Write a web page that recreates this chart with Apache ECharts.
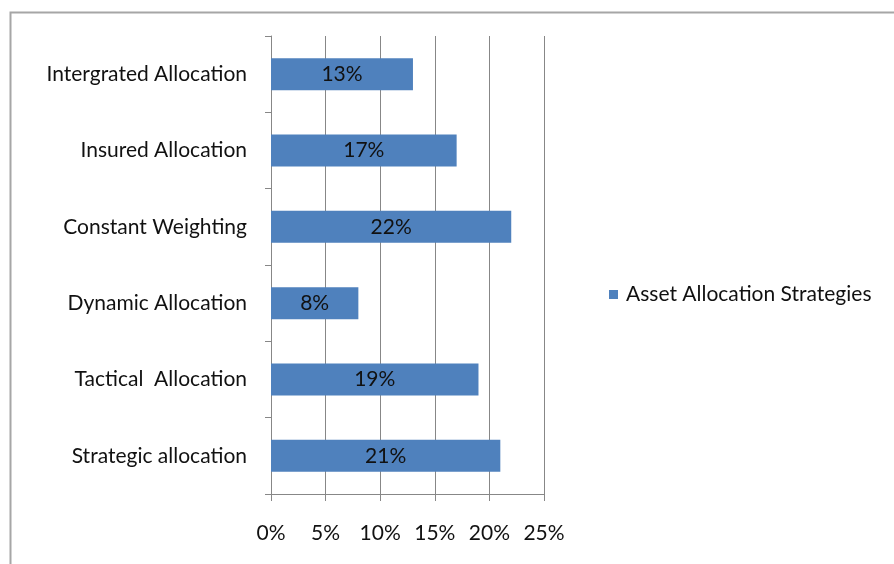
<!DOCTYPE html>
<html><head><meta charset="utf-8">
<script src="https://cdn.jsdelivr.net/npm/echarts@6/dist/echarts.min.js"></script>
<style>html,body{margin:0;padding:0;background:#fff}#c{width:894px;height:564px}</style>
</head><body><div id="c"></div>
<script>
const categories = ["Strategic allocation", "Tactical  Allocation", "Dynamic Allocation", "Constant Weighting", "Insured Allocation", "Intergrated Allocation"];
const values = [21, 19, 8, 22, 17, 13];
const seriesName = "Asset Allocation Strategies";
const xTicks = [0, 5, 10, 15, 20, 25];

const chart = echarts.init(document.getElementById('c'), null, {renderer: 'canvas'});
const font = "Lato, 'Open Sans', sans-serif";
const fs = 21;
chart.setOption({
  animation: false,
  backgroundColor: '#fff',
  graphic: [{
    type: 'rect', left: 8, top: 10, z: -1,
    shape: {width: 1000, height: 1000},
    style: {fill: 'none', stroke: '#a6a6a6', lineWidth: 2}
  }],
  grid: {left: 271, right: 350, top: 36, bottom: 70, containLabel: false},
  legend: {
    show: true, orient: 'vertical', left: 604, top: 279,
    itemWidth: 9, itemHeight: 9, itemGap: 5,
    icon: 'rect',
    textStyle: {fontFamily: font, fontSize: fs, color: '#111', padding: [0, 0, 0, 3]},
    data: [seriesName]
  },
  xAxis: {
    type: 'value', min: xTicks[0], max: xTicks[xTicks.length - 1], interval: 5,
    axisLine: {show: true, lineStyle: {color: '#878787', width: 1}},
    axisTick: {show: true, length: 7, lineStyle: {color: '#878787'}},
    splitLine: {show: true, lineStyle: {color: '#878787', width: 1}},
    axisLabel: {formatter: v => v + '%', margin: 29, fontFamily: font, fontSize: fs, color: '#111'}
  },
  yAxis: {
    type: 'category', data: categories,
    axisLine: {show: true, lineStyle: {color: '#878787'}},
    axisTick: {show: true, length: 6, lineStyle: {color: '#878787'}},
    axisLabel: {margin: 24, fontFamily: font, fontSize: fs, color: '#111'}
  },
  series: [{
    name: seriesName, type: 'bar', data: values, barWidth: '42%',
    itemStyle: {color: '#4f81bd'},
    label: {show: true, position: 'inside', formatter: p => p.value + '%', fontFamily: font, fontSize: fs, color: '#111'}
  }]
});
</script></body></html>
